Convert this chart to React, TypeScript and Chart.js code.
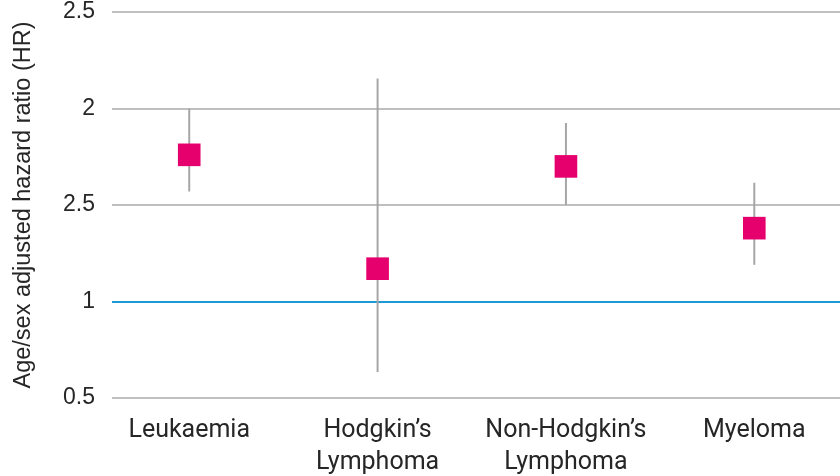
import React, { useEffect, useRef } from "react";
import { Chart, registerables } from "chart.js";

Chart.register(...registerables);

const categories: string[][] = [
  ["Leukaemia"],
  ["Hodgkin’s", "Lymphoma"],
  ["Non-Hodgkin’s", "Lymphoma"],
  ["Myeloma"],
];
const hazardRatio = [1.76, 1.17, 1.7, 1.38];
const ciLower = [1.57, 0.635, 1.5, 1.19];
const ciUpper = [2.0, 2.155, 1.925, 1.615];
const yTickValues = [0.5, 1, 1.5, 2, 2.5];
const yTickLabels = ["0.5", "1", "2.5", "2", "2.5"];
const referenceValue = 1;
const yAxisTitle = "Age/sex adjusted hazard ratio (HR)";

const TEXT = "#262626";
const GRID = "#bfbfbf";
const BLUE = "#1b9ad6";
const PINK = "#e6006e";
const WHISKER = "#a6a6a6";

export default function App() {
  const ref = useRef<HTMLCanvasElement | null>(null);

  useEffect(() => {
    if (!ref.current) return;
    const errorSets = categories.map((_, i) => ({
      type: "line" as const,
      showLine: true,
      data: [
        { x: i, y: ciLower[i] },
        { x: i, y: ciUpper[i] },
      ],
      borderColor: WHISKER,
      borderWidth: 2,
      pointRadius: 0,
      order: 1,
    }));
    const chart = new Chart(ref.current, {
      type: "scatter",
      data: {
        datasets: [
          ...errorSets,
          {
            data: hazardRatio.map((v, i) => ({ x: i, y: v })),
            pointStyle: "rect",
            pointRadius: 16,
            backgroundColor: PINK,
            borderColor: PINK,
            borderWidth: 0,
            order: 0,
          } as any,
        ],
      },
      options: {
        animation: false,
        responsive: true,
        maintainAspectRatio: false,
        layout: { autoPadding: false, padding: { top: 12, left: 0, right: 0, bottom: 0 } },
        plugins: { legend: { display: false }, tooltip: { enabled: false } },
        scales: {
          x: {
            type: "linear",
            min: -0.41,
            max: 3.455,
            afterBuildTicks: (scale: any) => {
              scale.ticks = categories.map((_, i) => ({ value: i }));
            },
            afterFit: (scale: any) => {
              scale.height = 78;
              scale.paddingLeft = 0;
              scale.paddingRight = 0;
            },
            grid: { display: false, drawTicks: false },
            border: { display: false },
            ticks: {
              autoSkip: false,
              maxRotation: 0,
              padding: 17,
              color: TEXT,
              font: { family: "Roboto", size: 25, lineHeight: 1.28 },
              callback: (_v: any, i: number) => categories[i],
            },
          },
          y: {
            type: "linear",
            min: 0.5,
            max: 2.5,
            afterBuildTicks: (scale: any) => {
              scale.ticks = yTickValues.map((v) => ({ value: v }));
            },
            afterFit: (scale: any) => {
              scale.width = 112;
              scale.paddingTop = 0;
              scale.paddingBottom = 0;
            },
            grid: {
              drawTicks: false,
              lineWidth: 2,
              color: (ctx: any) => (ctx.tick && ctx.tick.value === referenceValue ? BLUE : GRID),
            },
            border: { display: false },
            ticks: {
              padding: 17,
              color: TEXT,
              font: { family: "'Liberation Sans', Arial", size: 23 },
              callback: (_v: any, i: number) => yTickLabels[i],
            },
            title: {
              display: true,
              text: yAxisTitle,
              color: TEXT,
              padding: { top: 9, bottom: 0 },
              font: { family: "'Liberation Sans', Arial", size: 23.5 },
            },
          },
        },
      },
    });
    return () => chart.destroy();
  }, []);

  return (
    <div style={{ position: "absolute", left: 0, top: 0, width: 840, height: 476, background: "#fff" }}>
      <canvas ref={ref} />
    </div>
  );
}
